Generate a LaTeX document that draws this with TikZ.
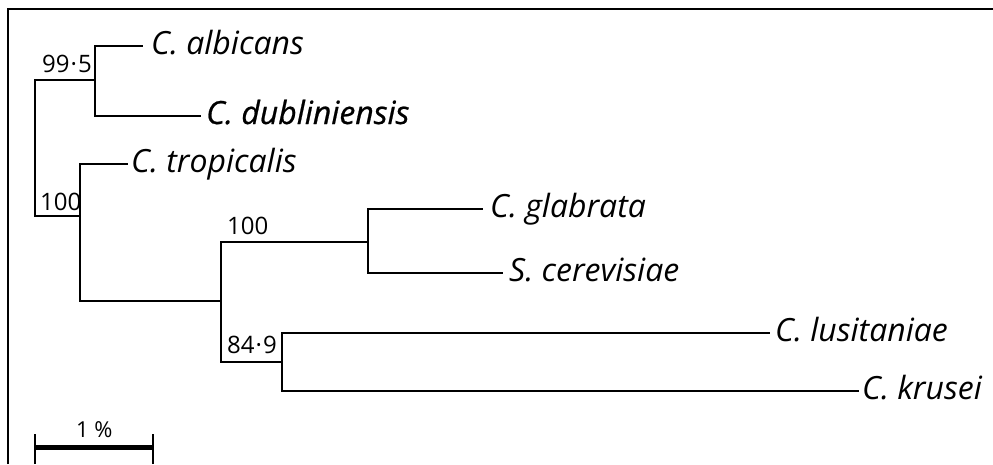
\documentclass[tikz,border=0pt]{standalone}
\usepackage{fontspec}
\setmainfont{Open Sans}
\newfontfamily\dubfont[FakeBold=0.7]{Open Sans}
\begin{document}
\begin{tikzpicture}[x=1pt,y=-1pt,
  branch/.style={line width=1.6pt,line cap=rect},
  frameline/.style={line width=2.2pt},
  taxon/.style={anchor=base west,inner sep=0pt,font=\fontsize{32}{36}\selectfont\itshape},
  support/.style={anchor=base west,inner sep=0pt,font=\fontsize{24}{27}\selectfont},
  scalebar/.style={line width=5pt},
  scaletick/.style={line width=2pt}]
\useasboundingbox (0,0) rectangle (993,464);
% frame (top and left edges)
\coordinate (fbl) at (8,464);
\coordinate (ftl) at (8,9);
\coordinate (ftr) at (993,9);
\draw[frameline] (fbl) -- (ftl) -- (ftr);

% internal nodes
\coordinate (root) at (35,80);
\coordinate (rootb) at (35,216);
\coordinate (nA) at (95,80);
\coordinate (nB) at (80,216);
\coordinate (nC) at (221,301);
\coordinate (nD) at (368,242);
\coordinate (nE) at (282,362);

% tip ends
\coordinate (tAlb) at (142,46);
\coordinate (tDub) at (200,116);
\coordinate (tTro) at (127,164);
\coordinate (tGla) at (482,209);
\coordinate (tCer) at (502,273);
\coordinate (tLus) at (769,333);
\coordinate (tKru) at (858,391);

% taxon labels
\node[taxon] (lAlb) at (151,54) {C. albicans};
\node[taxon,font=\fontsize{32}{36}\selectfont\dubfont\itshape] (lDub) at (206,124) {C. dubliniensis};
\node[taxon] (lTro) at (131,172) {C. tropicalis};
\node[taxon] (lGla) at (490,217) {C. glabrata};
\node[taxon] (lCer) at (509,281) {S. cerevisiae};
\node[taxon] (lLus) at (775,341) {C. lusitaniae};
\node[taxon] (lKru) at (862,399) {C. krusei};

% branches
\draw[branch] (root) -- (rootb);
\draw[branch] (root) -- (nA);
\draw[branch] (rootb) -- (nB);
\draw[branch] (nA |- tAlb) -- (nA |- tDub);
\draw[branch] (nA |- tAlb) -- (tAlb);
\draw[branch] (nA |- tDub) -- (tDub);
\draw[branch] (nB |- tTro) -- (nB |- nC);
\draw[branch] (nB |- tTro) -- (tTro);
\draw[branch] (nB |- nC) -- (nC);
\draw[branch] (nC |- nD) -- (nC |- nE);
\draw[branch] (nC |- nD) -- (nD);
\draw[branch] (nC |- nE) -- (nE);
\draw[branch] (nD |- tGla) -- (nD |- tCer);
\draw[branch] (nD |- tGla) -- (tGla);
\draw[branch] (nD |- tCer) -- (tCer);
\draw[branch] (nE |- tLus) -- (nE |- tKru);
\draw[branch] (nE |- tLus) -- (tLus);
\draw[branch] (nE |- tKru) -- (tKru);

% support values
\node[support] (sA) at (42,72) {99\kern1pt·\kern1pt5};
\node[support] (sB) at (40,210) {100};
\node[support] (sD) at (227,234) {100};
\node[support] (sE) at (227,353) {84\kern1pt·\kern1pt9};

% scale bar
\coordinate (sbL) at (35,447);
\coordinate (sbR) at (153,447);
\draw[scalebar] (sbL) -- (sbR);
\draw[scaletick] ([yshift=-17pt]sbL) -- ([yshift=13pt]sbL);
\draw[scaletick] ([yshift=-17pt]sbR) -- ([yshift=13pt]sbR);
\node[support,font=\fontsize{22}{26}\selectfont] (sbLab) at (76,437) {1 \%};
\end{tikzpicture}
\end{document}
